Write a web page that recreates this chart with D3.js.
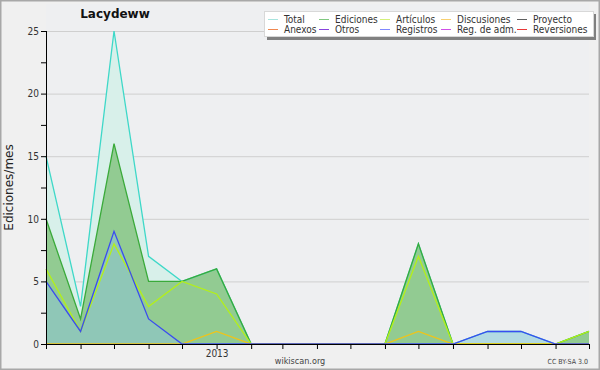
<!DOCTYPE html>
<html>
<head>
<meta charset="utf-8">
<script src="https://cdn.jsdelivr.net/npm/d3@7"></script>
<style>
  body { margin: 0; background: #fff; }
  text { font-family: "DejaVu Sans Condensed", "DejaVu Sans", sans-serif; }
</style>
</head>
<body>
<div id="chart"></div>
<script>
// months Aug 2012 .. Dec 2013
const months = ["2012-08","2012-09","2012-10","2012-11","2012-12","2013-01","2013-02","2013-03",
    "2013-04","2013-05","2013-06","2013-07","2013-08","2013-09","2013-10","2013-11","2013-12"]
const total       = [15, 3, 25, 7, 5, 6, 0, 0, 0, 0, 0, 8, 0, 1, 1, 0, 1]
const ediciones   = [10, 2, 16, 5, 5, 6, 0, 0, 0, 0, 0, 8, 0, 0, 0, 0, 1]
const articulos   = [6, 1, 8, 3, 5, 4, 0, 0, 0, 0, 0, 7, 0, 0, 0, 0, 1]
const discusiones = [0, 0, 0, 0, 0, 1, 0, 0, 0, 0, 0, 1, 0, 0, 0, 0, 0]
const registros   = [5, 1, 9, 2, 0, 0, 0, 0, 0, 0, 0, 0, 0, 1, 1, 0, 0]
const yTicks = [0, 5, 10, 15, 20, 25]

const legendItems = [
    ["Total", "#a8e4de"], ["Ediciones", "#80c880"], ["Artículos", "#d4f07a"],
    ["Discusiones", "#f8d070"], ["Proyecto", "#606060"],
    ["Anexos", "#f08850"], ["Otros", "#8844dd"], ["Registros", "#8088ff"],
    ["Reg. de adm.", "#d050e8"], ["Reversiones", "#e83838"]
]

const W = 600, H = 370
const margin = { left: 46, right: 11, top: 31, bottom: 26 }
const parse = d3.timeParse("%Y-%m")
const dates = months.map(parse)

const svg = d3.select("#chart").append("svg")
    .attr("width", W).attr("height", H)

// background + frame
svg.append("rect").attr("x", 0.5).attr("y", 0.5).attr("width", W - 1).attr("height", H - 1)
    .attr("fill", "#f0f0f0").attr("stroke", "#a8a8a8").attr("stroke-width", 2)
svg.append("rect").attr("x", margin.left).attr("y", 4)
    .attr("width", W - margin.left - margin.right).attr("height", H - margin.bottom - 4)
    .attr("fill", "#eeeff1")

const x = d3.scaleTime()
    .domain(d3.extent(dates))
    .range([margin.left, W - margin.right])
const y = d3.scaleLinear()
    .domain([0, 25])
    .range([H - margin.bottom, margin.top])

/* GRID */
svg.append("g")
    .selectAll("line")
    .data(yTicks.filter(d => d > 0))
    .join("line")
    .attr("x1", margin.left).attr("x2", W - margin.right)
    .attr("y1", d => y(d) + 0.5).attr("y2", d => y(d) + 0.5)
    .attr("stroke", "#cfcfcf")

/* AREAS */
function area(vals) {
    return d3.area()
        .x((d, i) => x(dates[i]))
        .y0(y(0))
        .y1(d => y(d))(vals)
}
function line(vals) {
    return d3.line()
        .x((d, i) => x(dates[i]))
        .y(d => y(d))(vals)
}
svg.append("path").attr("d", area(total)).attr("fill", "#d8f0ea")
svg.append("path").attr("d", area(ediciones)).attr("fill", "#92cb92")
svg.append("path").attr("d", area(registros)).attr("fill", "#8cc4dc").attr("opacity", 0.5)

/* LINES */
const lines = [
    [total, "#3ed8c8"],
    [ediciones, "#3aaa3a"],
    [articulos, "#b4f018"],
    [discusiones, "#f0c418"],
    [registros, "#3a4cf0"]
]
lines.forEach(([vals, c]) => {
    svg.append("path").attr("d", line(vals))
        .attr("fill", "none").attr("stroke", c).attr("stroke-width", 1.3)
})

/* AXES */
const yAxis = svg.append("g")
    .attr("transform", `translate(${margin.left}, 0)`)
    .call(d3.axisLeft(y)
        .tickValues(d3.range(0, 25.01, 2.5))
        .tickSize(5)
        .tickPadding(2)
        .tickFormat(d => yTicks.includes(d) ? d : ""))
yAxis.select(".domain").attr("stroke", "#000").attr("d", `M0.5,${y(0)}V${y(25)}`)
yAxis.selectAll(".tick line").attr("stroke", "#000")
yAxis.selectAll(".tick text").style("font-size", "10px").attr("fill", "#333")

const xAxis = svg.append("g")
    .attr("transform", `translate(0, ${y(0)})`)
    .call(d3.axisBottom(x)
        .tickValues(dates)
        .tickSize(5)
        .tickPadding(1)
        .tickFormat(d => d.getMonth() === 0 ? d3.timeFormat("%Y")(d) : ""))
xAxis.select(".domain").attr("stroke", "#000").attr("d", `M${margin.left},0.5H${W - margin.right}`)
xAxis.selectAll(".tick line").attr("stroke", "#000")
xAxis.selectAll(".tick text").style("font-size", "10px").attr("fill", "#333")

/* TITLES */
svg.append("text").attr("x", 115).attr("y", 18).attr("text-anchor", "middle")
    .style("font-size", "12px").style("font-weight", "bold").attr("fill", "#111")
    .style("font-family", "'DejaVu Sans', sans-serif")
    .text("Lacydeww")
svg.append("text").attr("transform", `translate(13, ${y(12.5)}) rotate(-90)`)
    .attr("text-anchor", "middle").style("font-size", "12px").attr("fill", "#222")
    .style("font-family", "'DejaVu Sans', sans-serif")
    .text("Ediciones/mes")
svg.append("text").attr("x", 300).attr("y", 364).attr("text-anchor", "middle")
    .style("font-size", "9px").attr("fill", "#444").text("wikiscan.org")
svg.append("text").attr("x", 588).attr("y", 364).attr("text-anchor", "end")
    .style("font-size", "7px").attr("fill", "#444").text("CC BY-SA 3.0")

/* LEGEND */
svg.append("rect").attr("x", 267).attr("y", 14).attr("width", 329).attr("height", 26).attr("fill", "#808080")
svg.append("rect").attr("x", 264.5).attr("y", 11.5).attr("width", 329).attr("height", 25)
    .attr("fill", "#fff").attr("stroke", "#d8d8d8")
const colX = [268, 319, 380, 441, 517]
legendItems.forEach(([name, c], i) => {
    const cx = colX[i % 5], cy = i < 5 ? 19 : 29
    svg.append("line").attr("x1", cx).attr("x2", cx + 10).attr("y1", cy + 0.5).attr("y2", cy + 0.5)
        .attr("stroke", c)
    svg.append("text").attr("x", cx + 16).attr("y", cy + 4)
        .style("font-size", "10px").attr("fill", "#333").text(name)
})
</script>
</body>
</html>
